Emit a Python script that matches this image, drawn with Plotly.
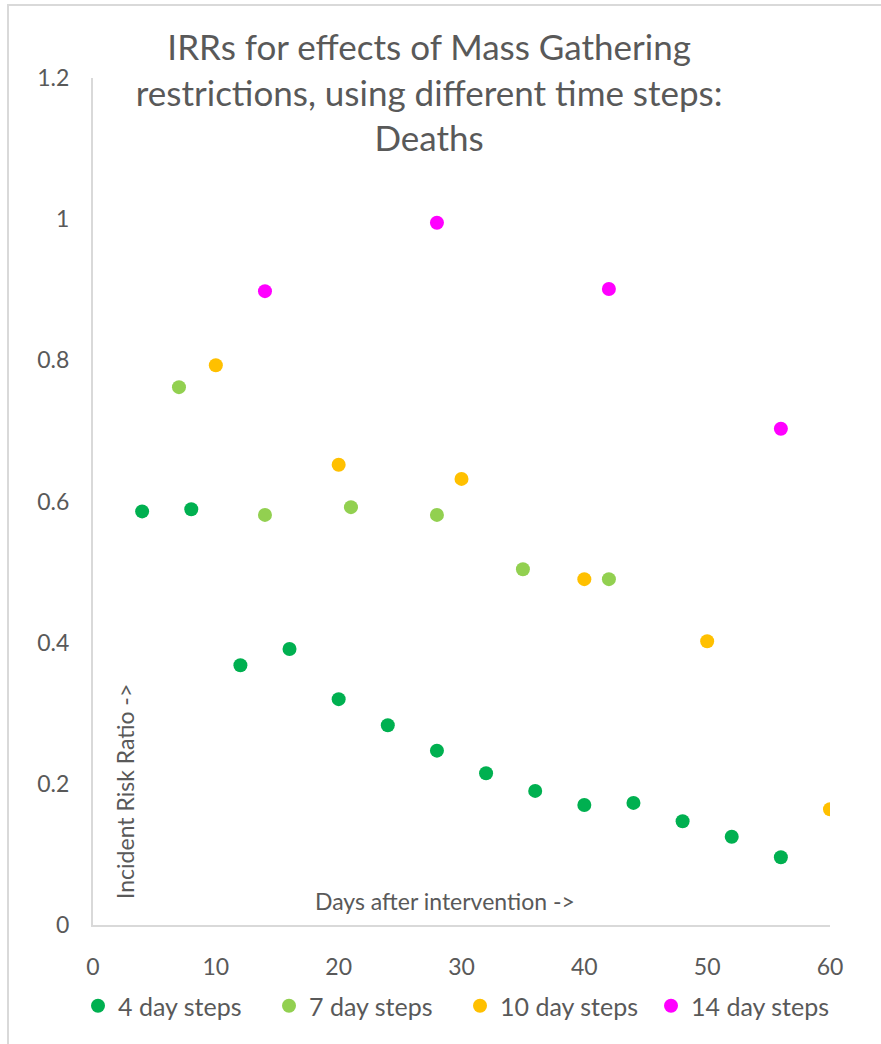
import plotly.graph_objects as go

# Data
x4 = [4, 8, 12, 16, 20, 24, 28, 32, 36, 40, 44, 48, 52, 56]
y4 = [0.586, 0.589, 0.368, 0.391, 0.320, 0.283, 0.247, 0.215, 0.190, 0.170, 0.173, 0.147, 0.125, 0.096]
x7 = [7, 14, 21, 28, 35, 42]
y7 = [0.762, 0.581, 0.592, 0.581, 0.504, 0.490]
x10 = [10, 20, 30, 40, 50, 60]
y10 = [0.793, 0.652, 0.632, 0.490, 0.402, 0.164]
x14 = [14, 28, 42, 56]
y14 = [0.898, 0.995, 0.901, 0.703]

series = [
    ("4 day steps", x4, y4, "#00B050"),
    ("7 day steps", x7, y7, "#92D050"),
    ("10 day steps", x10, y10, "#FFC000"),
    ("14 day steps", x14, y14, "#FF00FF"),
]

FONT = "Lato"
GREY = "#595959"

fig = go.Figure()
for name, xs, ys, col in series:
    fig.add_trace(go.Scatter(x=xs, y=ys, mode="markers", name=name,
                             marker=dict(color=col, size=14, line=dict(width=0))))

W, H = 881, 1044
L, R, T, B = 93, 51, 78, 119
pw, ph = W - L - R, H - T - B

def px(xp):
    return (xp - L) / pw

def py(yp):
    return (H - B - yp) / ph

fig.update_layout(
    width=W, height=H,
    margin=dict(l=L, r=R, t=T, b=B),
    paper_bgcolor="white", plot_bgcolor="white",
    font=dict(family=FONT, color=GREY, size=22),
    title=dict(text="IRRs for effects of Mass Gathering<br>restrictions, using different time steps:<br>Deaths",
               x=px(452), xanchor="center", y=1 - 60 / H, yanchor="top",
               font=dict(family=FONT, size=35, color=GREY)),
    xaxis=dict(range=[0, 60], tickvals=[0, 10, 20, 30, 40, 50, 60], showgrid=False,
               zeroline=False, showline=True, linecolor="#D9D9D9", linewidth=2,
               ticks="", ticklabelstandoff=20, tickfont=dict(size=23, color=GREY)),
    yaxis=dict(range=[0, 1.2], tickvals=[0, 0.2, 0.4, 0.6, 0.8, 1, 1.2],
               ticktext=["0", "0.2", "0.4", "0.6", "0.8", "1", "1.2"], showgrid=False,
               zeroline=False, showline=True, linecolor="#D9D9D9", linewidth=2,
               ticks="", ticklabelstandoff=17, tickfont=dict(size=23, color=GREY)),
    legend=dict(orientation="h", x=px(78), xanchor="left", y=py(1006), yanchor="middle",
                font=dict(size=25, color=GREY), itemwidth=30, tracegroupgap=0,
                entrywidth=146, entrywidthmode="pixels",
                bgcolor="rgba(0,0,0,0)"),
    showlegend=True,
)

fig.add_annotation(text="Days after intervention ->", xref="paper", yref="paper",
                   x=px(445), y=py(901), xanchor="center", yanchor="middle",
                   showarrow=False, font=dict(size=23, color=GREY, family=FONT))
fig.add_annotation(text="Incident Risk Ratio ->", xref="paper", yref="paper",
                   x=px(125), y=py(792), xanchor="center", yanchor="middle", textangle=-90,
                   showarrow=False, font=dict(size=23, color=GREY, family=FONT))

# chart area border
fig.add_shape(type="rect", xref="paper", yref="paper",
              x0=px(8), x1=px(W + 5), y0=py(H + 5), y1=py(5),
              line=dict(color="#D9D9D9", width=2), fillcolor="rgba(0,0,0,0)", layer="below")

fig.write_html("out.html")
